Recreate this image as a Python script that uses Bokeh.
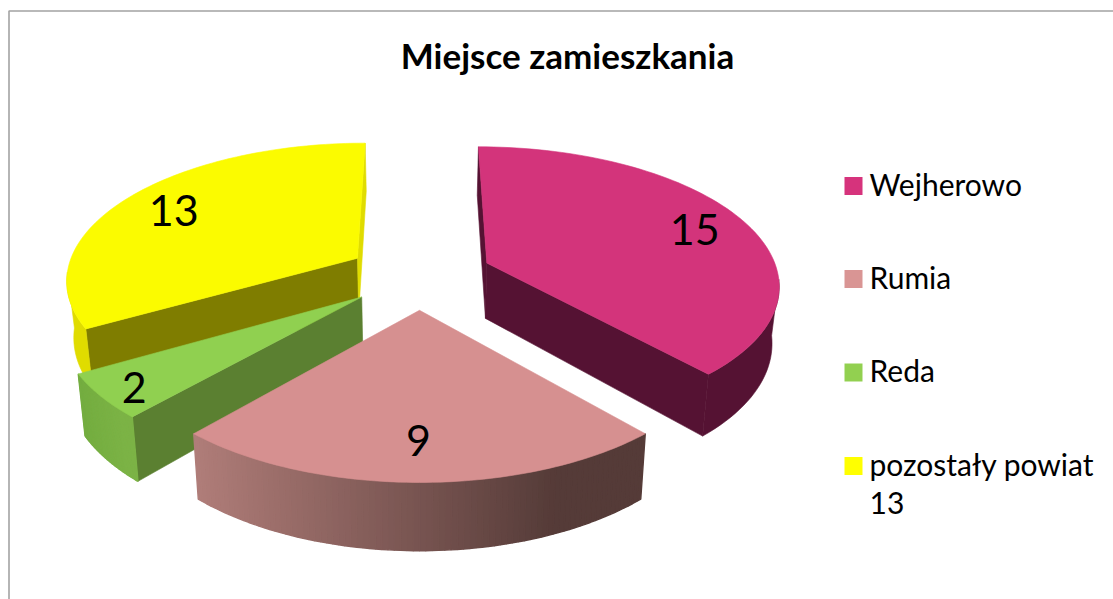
import numpy as np
from bokeh.plotting import figure
from bokeh.core.properties import value
from bokeh.embed import file_html
from bokeh.resources import INLINE

# ---- data ----
categories = ["Wejherowo", "Rumia", "Reda", "pozostały  powiat\n13"]
values = [15, 9, 2, 13]
value_labels = ["15", "9", "2", "13"]
title_text = "Miejsce zamieszkania"

# ---- colours (None: the face is turned away from the viewer) ----
top_colors = ["#d3347b", "#d69090", "#90d050", "#fbfb00"]
legend_colors = ["#d6337c", "#d99594", "#92d050", "#ffff00"]
start_face = ["#551233", None, "#5b8031", "#7f7d00"]
end_face = ["#551233", None, None, "#e0dc00"]
side_left = ["#551233", "#b07d79", "#74ad40", "#e0dc00"]
side_right = ["#551233", "#553b38", "#7cb346", "#e0dc00"]
label_radius = [0.81, 0.77, 0.89, 0.81]
label_nudge_x = [1, -1, 2, 3]

# ---- projection of the exploded disk ----
W, H = 1113, 599
X0, YH, A, B, K = 419.0, -673.0, 291.6, 947.5, 0.1437
EXPLODE, DEPTH, BOTTOM_X = 0.25, 56.0, 0.98


def project(x, z, bottom=False):
    t = 1 + K * np.asarray(z)
    sx = A * np.asarray(x) / t
    if bottom:
        return X0 + sx * BOTTOM_X, YH + (B + DEPTH) / t
    return X0 + sx, YH + B / t


def hex_mix(c1, c2, f):
    a = [int(c1[i:i + 2], 16) for i in (1, 3, 5)]
    b = [int(c2[i:i + 2], 16) for i in (1, 3, 5)]
    return "#%02x%02x%02x" % tuple(int(round(p + (q - p) * f)) for p, q in zip(a, b))


p = figure(width=W, height=H, x_range=(0, W), y_range=(H, 0),
           output_backend="svg", toolbar_location=None, min_border=0,
           background_fill_color="white", border_fill_color="white")
p.axis.visible = False
p.grid.visible = False
p.outline_line_color = None

# chart frame
p.line([8.5, 8.5, W], [H, 10.5, 10.5], line_color="#a3a3a3", line_width=1.6)

angles = np.cumsum([0] + values) / sum(values) * 2 * np.pi
slices = []
for i, v in enumerate(values):
    a0, a1 = angles[i], angles[i + 1]
    mid = (a0 + a1) / 2
    slices.append((i, a0, a1, EXPLODE * np.sin(mid), EXPLODE * np.cos(mid)))


def add_poly(xs, ys, color, lw=0.6):
    p.patch(list(xs), list(ys), fill_color=color, line_color=color, line_width=lw)


for i, a0, a1, ox, oz in [slices[3], slices[0], slices[2], slices[1]]:
    # radial faces
    for edge, col in ((a0, start_face[i]), (a1, end_face[i])):
        if col is None:
            continue
        ex, ez = ox + np.sin(edge), oz + np.cos(edge)
        tx, ty = project([ox, ex], [oz, ez])
        bx, by = project([ex, ox], [ez, oz], bottom=True)
        add_poly(list(tx) + list(bx), list(ty) + list(by), col)
    # outer wall: only its front part shows
    th = np.linspace(a0, a1, 81)
    front = th[np.cos(th) <= -0.1]
    wx, wz = ox + np.sin(front), oz + np.cos(front)
    tx, ty = project(wx, wz)
    bx, by = project(wx, wz, bottom=True)
    if side_left[i] == side_right[i]:
        add_poly(np.r_[tx, bx[::-1]], np.r_[ty, by[::-1]], side_left[i])
    else:
        lo, hi = tx.min(), tx.max()
        for j in range(len(front) - 1):
            f = ((tx[j] + tx[j + 1]) / 2 - lo) / max(hi - lo, 1)
            add_poly([tx[j], tx[j + 1], bx[j + 1], bx[j]],
                     [ty[j], ty[j + 1], by[j + 1], by[j]],
                     hex_mix(side_left[i], side_right[i], min(f * 1.25, 1)), lw=1.4)
    # top surface
    sx, sy = project(ox + np.sin(th), oz + np.cos(th))
    cx, cy = project([ox], [oz])
    add_poly(np.r_[cx, sx], np.r_[cy, sy], top_colors[i])

# value labels
for i, a0, a1, ox, oz in slices:
    mid = (a0 + a1) / 2
    r = label_radius[i]
    lx, ly = project([ox + r * np.sin(mid)], [oz + r * np.cos(mid)])
    p.text(lx + label_nudge_x[i], ly + 3, text=[value_labels[i]], text_font=value("Lato"),
           text_font_size="43px", text_color="#000000", text_align="center", text_baseline="middle")

# title
p.text([567], [54.5], text=[title_text], text_font=value("Lato"), text_font_size="35px",
       text_font_style="bold", text_color="#000000", text_align="center", text_baseline="middle")

# legend
legend_y = [185.5, 278.5, 372, 465.5]
p.rect([853] * 4, legend_y, width=18, height=18, fill_color=legend_colors, line_color=None)
for lab, y in zip(categories, legend_y):
    parts = lab.split("\n")
    for k, part in enumerate(parts):
        p.text([869], [y - 2.5 + k * 39], text=[part], text_font=value("Lato"), text_font_size="30px",
               text_color="#000000", text_align="left", text_baseline="middle")

open("out.html", "w").write(file_html(p, INLINE))
